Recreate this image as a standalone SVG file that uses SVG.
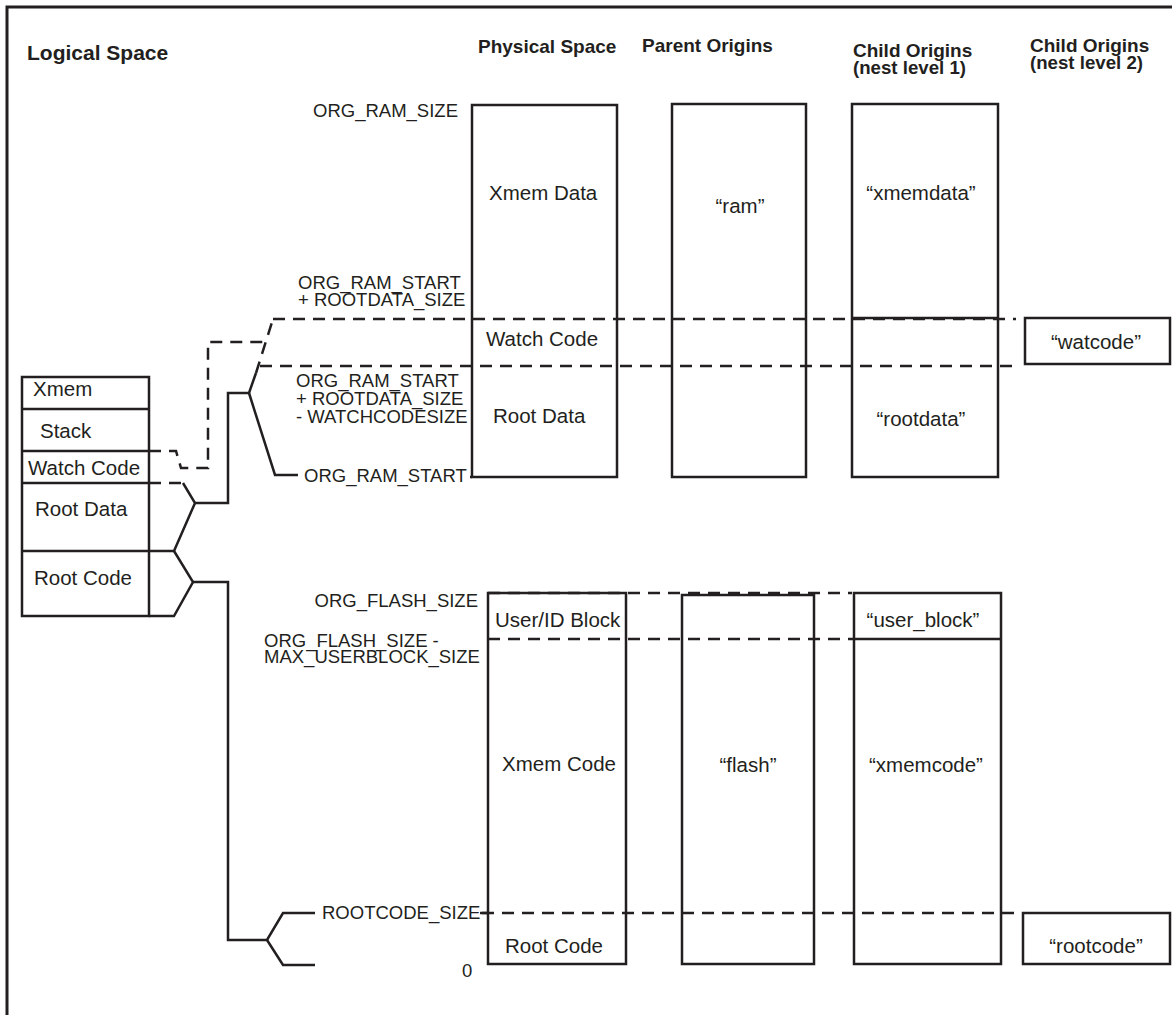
<svg xmlns="http://www.w3.org/2000/svg" width="1172" height="1015" viewBox="0 0 1172 1015">
<style>
.ln{fill:none;stroke:#231f20;stroke-width:2.5}
.ds{fill:none;stroke:#231f20;stroke-width:2.5;stroke-dasharray:12 8}
.bx{fill:none;stroke:#231f20;stroke-width:2.5}
.t{font-family:"Liberation Sans",Arial,sans-serif;font-size:20.5px;fill:#231f20}
.s{font-family:"Liberation Sans",Arial,sans-serif;font-size:18.5px;fill:#231f20}
.h{font-family:"Liberation Sans",Arial,sans-serif;font-size:19px;font-weight:bold;fill:#231f20}
.m{text-anchor:middle}
.e{text-anchor:end}
</style>
<rect width="1172" height="1015" fill="#fff"/>
<path d="M7,1015 V7 H1172" fill="none" stroke="#231f20" stroke-width="3"/>

<g id="headers">
<text class="h" x="27" y="60" style="font-size:21px">Logical Space</text>
<text class="h" x="478" y="53">Physical Space</text>
<text class="h" x="642" y="52">Parent Origins</text>
<text class="h" x="853" y="57">Child Origins</text>
<text class="h" x="853" y="74" textLength="113" lengthAdjust="spacingAndGlyphs">(nest level 1)</text>
<text class="h" x="1030" y="52">Child Origins</text>
<text class="h" x="1030" y="69" textLength="113" lengthAdjust="spacingAndGlyphs">(nest level 2)</text>
</g>

<g id="logical-space">
<rect class="bx" x="22" y="377" width="127" height="239"/>
<path class="ln" d="M22,409 H149 M22,451 H149 M22,483 H149 M22,551 H149"/>
<text class="t" x="33" y="396">Xmem</text>
<text class="t" x="40" y="438">Stack</text>
<text class="t" x="28" y="475">Watch Code</text>
<text class="t" x="35" y="516">Root Data</text>
<text class="t" x="34" y="585">Root Code</text>
</g>

<g id="physical-ram">
<rect class="bx" x="472" y="105" width="145" height="372"/>
<text class="t" x="489" y="200">Xmem Data</text>
<text class="t" x="486" y="346">Watch Code</text>
<text class="t" x="493" y="423">Root Data</text>
</g>

<g id="parent-ram">
<rect class="bx" x="672" y="104" width="134" height="373"/>
<text class="t m" x="740" y="213">“ram”</text>
</g>

<g id="child-ram">
<rect class="bx" x="852" y="104" width="146" height="373"/>
<path class="ln" d="M852,318 H998"/>
<text class="t m" x="921" y="200">“xmemdata”</text>
<text class="t m" x="921" y="426">“rootdata”</text>
</g>

<g id="watcode">
<rect class="bx" x="1025" y="318" width="145" height="46"/>
<text class="t m" x="1096" y="349">“watcode”</text>
</g>

<g id="physical-flash">
<rect class="bx" x="488" y="593" width="138" height="371"/>
<text class="t" x="495" y="627">User/ID Block</text>
<text class="t" x="502" y="771">Xmem Code</text>
<text class="t" x="505" y="953">Root Code</text>
</g>

<g id="parent-flash">
<rect class="bx" x="682" y="595" width="132" height="369"/>
<text class="t m" x="748" y="772">“flash”</text>
</g>

<g id="child-flash">
<rect class="bx" x="854" y="593" width="147" height="371"/>
<path class="ln" d="M854,639 H1001"/>
<text class="t m" x="923" y="627">“user_block”</text>
<text class="t m" x="926" y="772">“xmemcode”</text>
</g>

<g id="rootcode">
<rect class="bx" x="1023" y="913" width="147" height="51"/>
<text class="t m" x="1096" y="953">“rootcode”</text>
</g>

<g id="labels">
<text class="s e" x="458" y="117">ORG_RAM_SIZE</text>
<text class="s" x="298" y="289">ORG_RAM_START</text>
<text class="s" x="298" y="306">+ ROOTDATA_SIZE</text>
<text class="s" x="296" y="387">ORG_RAM_START</text>
<text class="s" x="296" y="405">+ ROOTDATA_SIZE</text>
<text class="s" x="296" y="423">- WATCHCODESIZE</text>
<text class="s" x="304" y="482">ORG_RAM_START</text>
<text class="s e" x="478" y="607">ORG_FLASH_SIZE</text>
<text class="s" x="264" y="647">ORG_FLASH_SIZE -</text>
<text class="s" x="264" y="663">MAX_USERBLOCK_SIZE</text>
<text class="s" x="322" y="919">ROOTCODE_SIZE</text>
<text class="s" x="462" y="977">0</text>
</g>

<g id="connectors">
<path class="ds" d="M273,319 H1016"/>
<path class="ds" d="M260,366 H1018"/>
<path class="ds" d="M488,593 H852"/>
<path class="ds" d="M488,639 H854"/>
<path class="ds" d="M482,913 H1020"/>
<path class="ds" d="M256,373 L273,319"/>
<path class="ds" d="M149,451 H176 L181,468 H208 V342 H265"/>
<path class="ds" d="M149,483 H183"/>
<path class="ln" d="M183,483 L195,503 L174,551 H149"/>
<path class="ln" d="M195,503 H228 V393 H249 L256,373"/>
<path class="ln" d="M249,393 L275,475 H298"/>
<path class="ln" d="M470,477 H472"/>
<path class="ln" d="M149,616 H174 L193,582 L174,551"/>
<path class="ln" d="M193,582 H228 V940 H267 L283,913 H315"/>
<path class="ln" d="M267,940 L283,965 H315"/>
<path class="ln" d="M480,913 H488"/>
</g>
</svg>
